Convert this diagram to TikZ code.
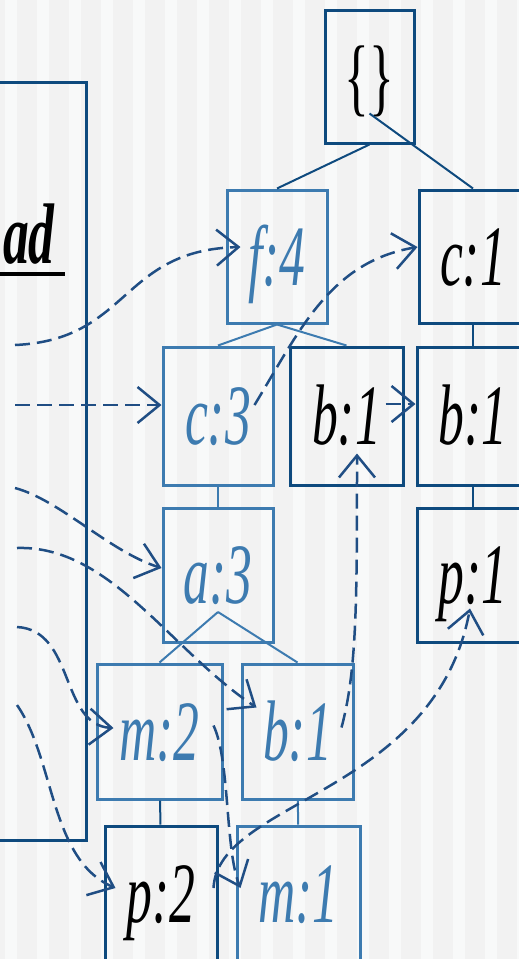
\documentclass[tikz,border=0pt]{standalone}
\usepackage{fontspec}
\usepackage{graphicx}
\setmainfont{Liberation Serif}
\usetikzlibrary{arrows.meta}
\definecolor{treeblue}{RGB}{14,74,126}
\definecolor{itemblue}{RGB}{61,123,176}
\definecolor{linkblue}{RGB}{32,78,132}
\definecolor{stripeA}{RGB}{242,242,242}
\definecolor{stripeB}{RGB}{248,249,249}
\newcommand{\fpitem}[1]{\scalebox{0.6}[1]{\fontsize{86}{86}\selectfont\itshape #1}}
\tikzset{
  fpnode/.style={draw=treeblue, line width=3pt, inner sep=0pt, text=black,
    text height=57pt, text depth=0pt},
  oldnode/.style={fpnode, draw=itemblue, text=itemblue},
  branch/.style={draw=treeblue, line width=2pt},
  oldbranch/.style={draw=itemblue, line width=2pt},
  nodelink/.style={draw=linkblue, line width=2.5pt, dash pattern=on 15pt off 7pt,
    -{Straight Barb[length=22pt,width=36pt]}}
}

\begin{document}
\begin{tikzpicture}[x=1pt,y=-1pt]
\useasboundingbox (0,0) rectangle (519,959);
\clip (0,0) rectangle (519,959);
\fill[stripeA] (0,0) rectangle (519,959);
\foreach \i in {0,...,16}
  \fill[stripeB] (5+32*\i,0) rectangle (17+32*\i,959);

\node[fpnode, minimum width=96pt, minimum height=758pt] (header) at (38,461) {};
\node[anchor=base east, inner sep=0pt] (headlabel) at (55,263) {\fpitem{\bfseries ad}};
\draw[line width=4pt] (0,274) -- (65,274);

\node[fpnode, minimum width=89pt, minimum height=133pt] (root) at (369.5,76.5) {\fpitem{\upshape\{\}}};
\node[oldnode, minimum width=100pt, minimum height=133pt] (f4) at (277,256.5) {\fpitem{f:4}};
\node[fpnode, minimum width=108pt, minimum height=133pt] (c1) at (473,256.5) {\fpitem{c:1}};
\node[oldnode, minimum width=110pt, minimum height=138pt] (c3) at (218,416) {\fpitem{c:3}};
\node[fpnode, minimum width=113pt, minimum height=138pt] (b1a) at (346.5,416) {\fpitem{b:1}};
\node[fpnode, minimum width=112pt, minimum height=138pt] (b1b) at (473,416) {\fpitem{b:1}};
\node[oldnode, minimum width=110pt, minimum height=134pt] (a3) at (218,575) {\fpitem{a:3}};
\node[fpnode, minimum width=112pt, minimum height=134pt] (p1) at (473,575) {\fpitem{p:1}};
\node[oldnode, minimum width=125pt, minimum height=135pt] (m2) at (159.5,731.5) {\fpitem{m:2}};
\node[oldnode, minimum width=111pt, minimum height=135pt] (b1c) at (297.5,731.5) {\fpitem{b:1}};
\node[fpnode, minimum width=112pt, minimum height=135pt] (p2) at (161,893.5) {\fpitem{p:2}};
\node[oldnode, minimum width=123pt, minimum height=135pt] (m1) at (298.5,893.5) {\fpitem{m:1}};

\draw[branch] (root.south) -- (f4.north);
\draw[branch] ([shift={(0,37)}]root.center) -- (c1.north);
\draw[oldbranch] (f4.south) -- (c3.north);
\draw[oldbranch] (f4.south) -- (b1a.north);
\draw[oldbranch] (c3) -- (a3);
\draw[oldbranch] ([shift={(0,37)}]a3.center) -- (m2.north);
\draw[oldbranch] ([shift={(0,37)}]a3.center) -- (b1c.north);
\draw[branch] (m2) -- (p2);
\draw[oldbranch] (b1c) -- (m1);
\draw[branch] (c1) -- (b1b);
\draw[branch] (b1b) -- (p1);

\coordinate (hf) at (15,345);
\coordinate (hc) at (15,405);
\coordinate (ha) at (15,488);
\coordinate (hb) at (17,548);
\coordinate (hm) at (17,627);
\coordinate (hp) at (17,705);

\draw[nodelink] (hf) .. controls (130,340) and (120,250) .. ([shift={(15,-9.5)}]f4.west);
\draw[nodelink] (hc) -- (hc -| c3.west);
\draw[nodelink] ([shift={(-20,-11)}]c3.east) .. controls (300,330) and (330,262) .. ([shift={(0,-9.5)}]c1.west);
\draw[nodelink] ([shift={(-19,-12)}]b1a.east) -- ([shift={(0,-12)}]b1b.west);
\draw[nodelink] (ha) .. controls (60,500) and (110,552) .. ([shift={(0,-7)}]a3.west);
\draw[nodelink] (hb) .. controls (110,545) and (170,650) .. ([shift={(16,-24)}]b1c.west);
\draw[nodelink] (hm) .. controls (75,630) and (60,725) .. ([shift={(18,-3.5)}]m2.west);
\draw[nodelink] (hp) .. controls (55,760) and (50,860) .. ([shift={(12,-5.5)}]p2.west);
\draw[nodelink] ([shift={(-13,-4)}]b1c.east) .. controls (357,670) and (357,600) .. ([shift={(10.5,-33)}]b1a.south);
\draw[nodelink] ([shift={(-10,-6)}]m2.east) .. controls (230,760) and (225,850) .. ([shift={(5,-5.5)}]m1.west);
\draw[nodelink] ([shift={(-5,-5.5)}]p2.east) .. controls (218,800) and (435,795) .. ([shift={(-3,-35)}]p1.south);
\end{tikzpicture}
\end{document}
